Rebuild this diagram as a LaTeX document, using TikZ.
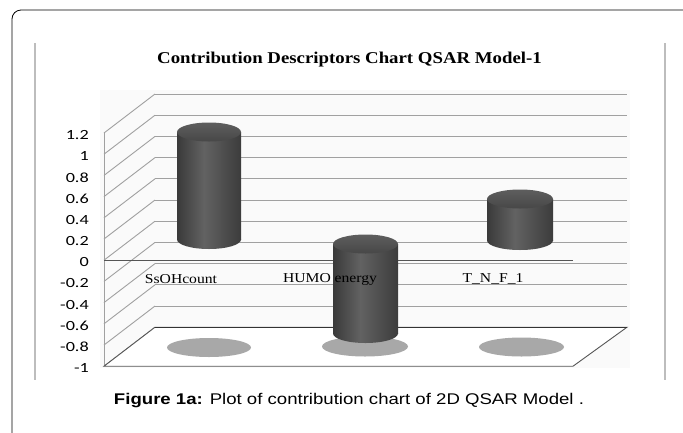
\documentclass[tikz,border=0pt]{standalone}
\usepackage{fontspec}
\setmainfont{Liberation Serif}
\newfontfamily\calibf{Carlito}
\newfontfamily\arialf{Liberation Sans}
\definecolor{gridgray}{HTML}{A0A0A0}
\definecolor{bordergray}{HTML}{BDBDBD}
\definecolor{wallfill}{HTML}{FAFAFA}
\definecolor{floorline}{HTML}{555555}
\definecolor{shadowgray}{HTML}{A8A8A8}
\definecolor{cylD}{HTML}{3A3A3A}
\definecolor{cylL}{HTML}{626262}
\definecolor{cylR}{HTML}{3C3C3C}
\definecolor{capT}{HTML}{5E5E5E}
\definecolor{capB}{HTML}{474747}
\pgfdeclarehorizontalshading{cylbody}{100bp}{color(0bp)=(cylD); color(25bp)=(cylD); color(46bp)=(cylL); color(75bp)=(cylR); color(100bp)=(cylR)}
\pgfdeclareverticalshading{cylcap}{100bp}{color(0bp)=(capB); color(25bp)=(capB); color(75bp)=(capT); color(100bp)=(capT)}
\newcommand\mycyl[5]{% cx, rx, ytop, ybot, ry
  \shade[shading=cylbody] (#1-#2,#3) rectangle (#1+#2,#4);
  \shade[shading=cylbody] (#1,#4) ellipse[x radius=#2,y radius=#5];
  \shade[shading=cylcap] (#1,#3) ellipse[x radius=#2,y radius=#5];
}
\begin{document}
\begin{tikzpicture}[x=1pt,y=-1pt,
  grid/.style={draw=gridgray,line width=0.9pt},
  ylab/.style={anchor=east,inner sep=0pt,font=\calibf\fontsize{14}{14}\selectfont},
  catlab/.style={inner sep=0pt,font=\fontsize{13.6}{14}\selectfont},
  shadow/.style={fill=shadowgray}]
\useasboundingbox (0,0) rectangle (683,432);
\fill[white] (0,0) rectangle (683,432);
\begin{scope}
  \clip (0,0) rectangle (683,432);
  \draw[black,line width=0.8pt,rounded corners=9pt] (12,10) rectangle (720,470);
\end{scope}
% chart frame lines
\draw[bordergray,line width=1.4pt] (35,43) -- (35,380);
\draw[bordergray,line width=1.4pt] (665,43) -- (665,380);
% title
\node[font=\bfseries\fontsize{16.5}{18}\selectfont,inner sep=0pt] (title) at (349.5,60) {\scalebox{1.14}[1]{Contribution Descriptors Chart QSAR Model-1}};
% plot area
\fill[wallfill] (100,90) rectangle (630,368);
% side wall diagonals and back gridlines
\foreach \k in {0,...,11} {
  \draw[grid] (104,133+21.2*\k) -- (155,94+21.2*\k);
}
\foreach \k in {0,...,10} {
  \draw[grid] (155,94+21.2*\k) -- (627,94+21.2*\k);
}
\draw[grid] (104,133) -- (104,366.2);
% floor
\filldraw[fill=white,draw=floorline,line width=0.9pt] (104,366.2) -- (573,366.2) -- (627,327.2) -- (155,327.2) -- cycle;
\draw[draw=black!80,line width=0.9pt] (155,327.2) -- (627,327.2);
% zero axis line
\draw[floorline,line width=1pt] (104,260.2) -- (573,260.2);
% shadows
\fill[shadow] (209,347.5) ellipse[x radius=42,y radius=9.5];
\fill[shadow] (365,346.5) ellipse[x radius=43,y radius=10];
\fill[shadow] (521.5,347) ellipse[x radius=42.5,y radius=9.5];
% cylinders
\mycyl{209}{32}{132}{239.5}{9.5}
\mycyl{365.5}{32.5}{244}{333.5}{9.5}
\mycyl{520}{33}{199}{240.5}{9.5}
% y labels
\foreach \v [count=\k from 0] in {1.2,1,0.8,0.6,0.4,0.2,0,-0.2,-0.4,-0.6,-0.8,-1} {
  \node[ylab] (y\k) at (89,135+21.2*\k) {\scalebox{1.3}[1]{\v}};
}
% category labels
\node[catlab] (c1) at (181,279) {\scalebox{1.15}[1]{SsOHcount}};
\node[catlab] (c2) at (330,279) {\scalebox{1.15}[1]{HUMO energy}};
\node[catlab] (c3) at (493,279) {\scalebox{1.15}[1]{T\_N\_F\_1}};
% caption
\node[font=\arialf\fontsize{15.5}{17}\selectfont,inner sep=0pt] (cap) at (349,401) {\scalebox{1.2}[1]{\textbf{Figure 1a:} Plot of contribution chart of 2D QSAR Model .}};
\end{tikzpicture}
\end{document}
